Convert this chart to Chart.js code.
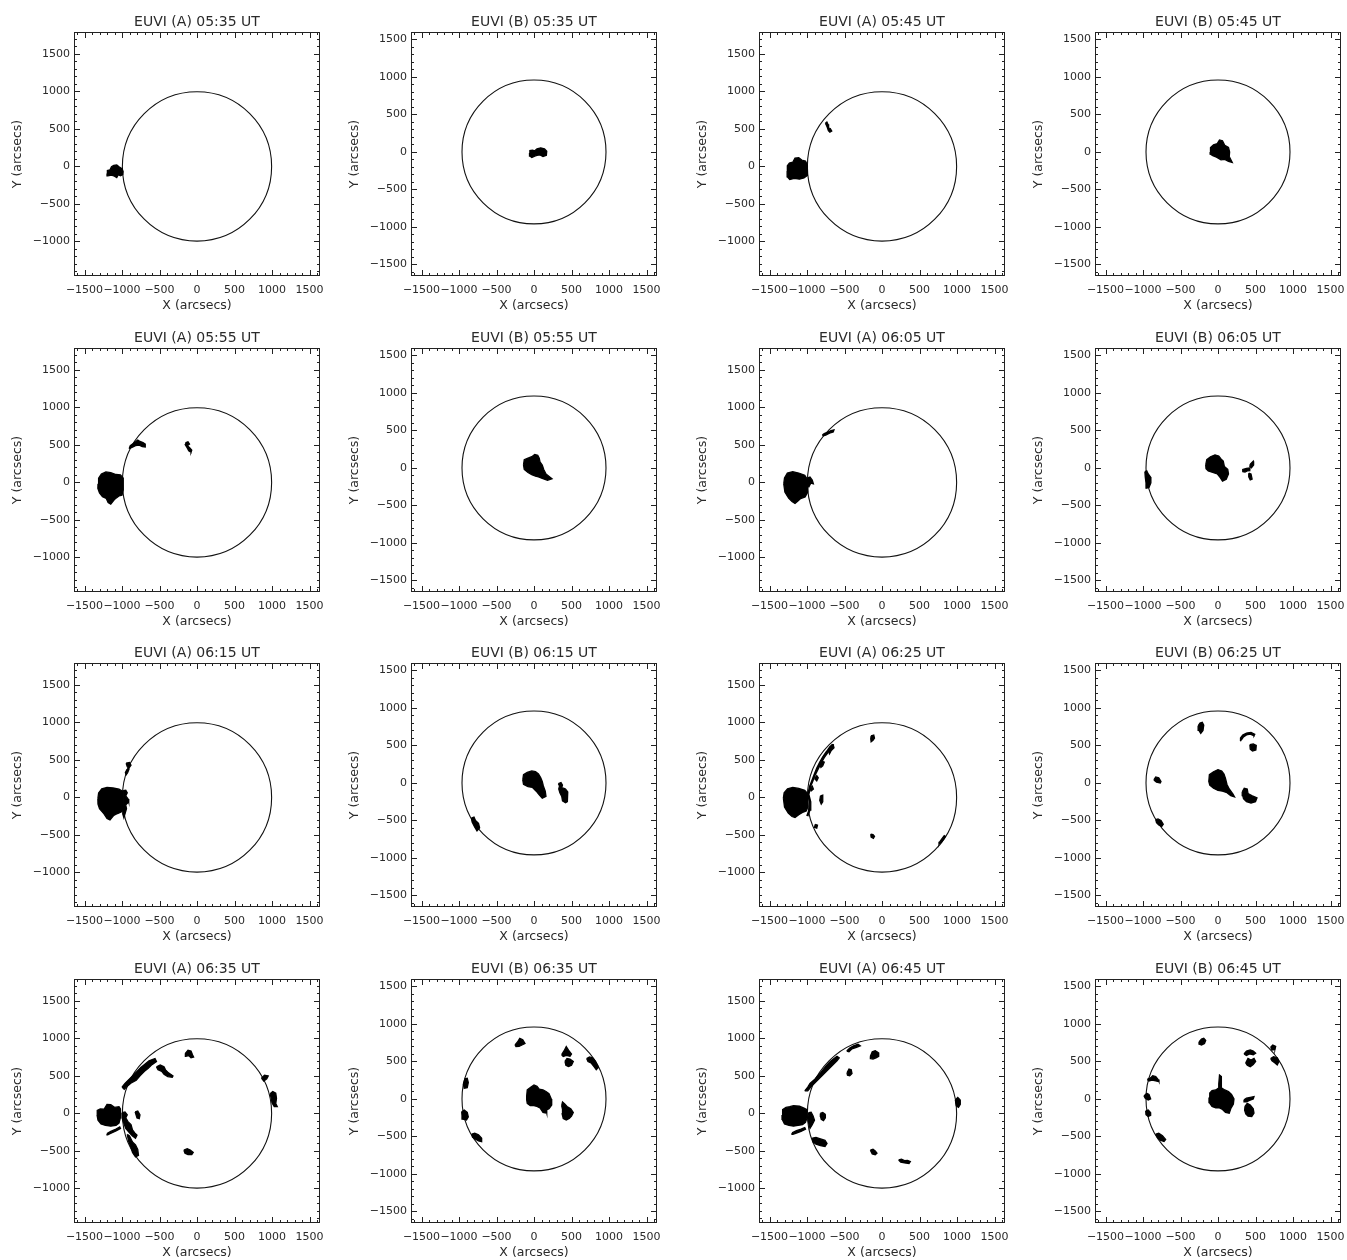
<!DOCTYPE html>
<html><head><meta charset="utf-8">
<script src="https://cdn.jsdelivr.net/npm/chart.js@4.4.1/dist/chart.umd.min.js"></script>
<style>
html,body{margin:0;padding:0;background:#fff;width:1347px;height:1260px;overflow:hidden;position:relative}
canvas{position:absolute}
</style></head><body>
<script>
// ---------------- DATA ----------------
const panelTitles = [
 'EUVI (A) 05:35 UT','EUVI (B) 05:35 UT','EUVI (A) 05:45 UT','EUVI (B) 05:45 UT',
 'EUVI (A) 05:55 UT','EUVI (B) 05:55 UT','EUVI (A) 06:05 UT','EUVI (B) 06:05 UT',
 'EUVI (A) 06:15 UT','EUVI (B) 06:15 UT','EUVI (A) 06:25 UT','EUVI (B) 06:25 UT',
 'EUVI (A) 06:35 UT','EUVI (B) 06:35 UT','EUVI (A) 06:45 UT','EUVI (B) 06:45 UT'];
const panelInstruments = ['A','B','A','B','A','B','A','B','A','B','A','B','A','B','A','B'];
const xTicks = [-1500,-1000,-500,0,500,1000,1500];
const yTicksA = [-1000,-500,0,500,1000,1500];
const yTicksB = [-1500,-1000,-500,0,500,1000,1500];
const xRange = [-1640,1640];
const yRangeA = [-1460,1790];
const yRangeB = [-1655,1600];
const limbRadiusA = 995;
const limbRadiusB = 960;
const xTitle = 'X (arcsecs)';
const yTitle = 'Y (arcsecs)';

// detected regions (arcsec polygons)
const regA0535 = [
 [[-1200,-95],[-1195,-55],[-1160,-45],[-1140,-5],[-1110,15],[-1070,20],[-1040,-5],[-1000,-30],[-985,-70],[-990,-110],[-1020,-125],[-1050,-110],[-1070,-150],[-1100,-130],[-1140,-115],[-1190,-125]]
];
const regB0535 = [
 [[-60,-15],[-55,20],[-20,25],[10,15],[40,40],[90,55],[140,40],[170,10],[165,-45],[120,-60],[80,-40],[40,-45],[10,-55],[-30,-75],[-55,-55]]
];
const regA0545 = [
 [[-1265,-60],[-1262,10],[-1235,45],[-1190,55],[-1160,110],[-1110,115],[-1070,85],[-1020,70],[-995,20],[-990,-60],[-1000,-120],[-1040,-155],[-1100,-170],[-1170,-160],[-1230,-175],[-1262,-140]],
 [[-755,575],[-735,590],[-720,560],[-712,510],[-690,505],[-670,470],[-695,455],[-715,475],[-730,520],[-740,545]]
];
const regB0545 = [
 [[-105,0],[-100,60],[-60,95],[-10,110],[20,160],[60,150],[90,90],[140,60],[155,0],[150,-60],[190,-140],[140,-125],[90,-100],[40,-105],[-20,-70],[-70,-50],[-100,-30]]
];
const regA0555 = [
 [[-1320,-20],[-1312,55],[-1275,110],[-1215,140],[-1150,130],[-1080,105],[-1020,100],[-985,60],[-983,-100],[-1000,-170],[-1040,-180],[-1080,-210],[-1110,-240],[-1150,-290],[-1185,-270],[-1210,-215],[-1260,-190],[-1300,-140],[-1322,-80]],
 [[-905,450],[-890,490],[-860,510],[-820,540],[-790,565],[-760,545],[-720,530],[-690,510],[-690,470],[-730,475],[-770,495],[-820,490],[-860,470]],
 [[-150,530],[-120,540],[-100,510],[-130,490],[-95,460],[-70,430],[-80,400],[-110,420],[-130,460],[-155,500]]
];
const regB0555 = [
 [[-140,40],[-130,110],[-80,130],[-30,150],[10,180],[50,170],[70,130],[80,80],[110,40],[130,-20],[160,-80],[240,-145],[180,-165],[110,-140],[60,-120],[20,-110],[-30,-90],[-80,-60],[-130,-20]]
];
const regA0605 = [
 [[-1310,-20],[-1300,60],[-1262,125],[-1190,142],[-1110,125],[-1030,95],[-992,35],[-990,-130],[-1025,-195],[-1085,-215],[-1125,-250],[-1160,-280],[-1200,-255],[-1245,-210],[-1295,-130]],
 [[-990,60],[-960,70],[-930,30],[-915,-20],[-950,-10],[-975,-60],[-990,-40]],
 [[-795,630],[-770,650],[-720,670],[-680,690],[-640,700],[-650,670],[-700,655],[-750,630],[-780,620]]
];
const regB0605 = [
 [[-164,40],[-150,110],[-100,150],[-40,175],[10,160],[40,120],[70,90],[85,20],[130,-20],[140,-80],[110,-150],[60,-175],[30,-130],[-10,-80],[-70,-60],[-130,-40],[-160,-10]],
 [[325,-50],[330,-20],[380,-5],[420,0],[425,-35],[390,-40],[360,-55]],
 [[410,-70],[440,-80],[455,-150],[430,-160],[410,-120]],
 [[430,50],[470,90],[475,40],[445,0],[425,15]],
 [[-975,-50],[-950,-40],[-930,-80],[-900,-120],[-895,-200],[-920,-260],[-950,-270],[-960,-200],[-970,-120]]
];
const regA0615 = [
 [[-1322,-20],[-1312,60],[-1270,115],[-1200,133],[-1120,125],[-1040,110],[-990,80],[-985,-120],[-1000,-190],[-1060,-215],[-1110,-240],[-1160,-300],[-1200,-280],[-1240,-220],[-1300,-150],[-1320,-90]],
 [[-945,455],[-900,465],[-880,430],[-905,395],[-935,370],[-955,330],[-945,300],[-925,330],[-905,380],[-930,410]],
 [[-985,90],[-950,95],[-930,60],[-950,20],[-920,-20],[-910,-60],[-950,-100],[-940,-150],[-960,-220],[-975,-270],[-990,-220],[-985,-100]]
];
const regB0615 = [
 [[-150,40],[-140,110],[-90,140],[-30,160],[20,150],[60,120],[90,70],[110,20],[125,-40],[150,-110],[160,-180],[110,-205],[70,-160],[30,-110],[-20,-60],[-80,-50],[-140,-20]],
 [[325,-10],[360,5],[380,-30],[370,-60],[420,-80],[450,-120],[440,-200],[450,-250],[420,-265],[380,-240],[370,-180],[345,-130],[330,-80],[340,-40]],
 [[-835,-470],[-800,-455],[-780,-500],[-740,-540],[-725,-600],[-760,-640],[-790,-590],[-825,-520]]
];
const regA0625 = [
 [[-1315,-10],[-1305,60],[-1260,115],[-1190,133],[-1110,120],[-1030,95],[-990,50],[-987,-120],[-1010,-180],[-1060,-200],[-1110,-230],[-1160,-267],[-1200,-255],[-1250,-210],[-1300,-130]],
 [[-987,-244],[-960,-170],[-950,-60],[-975,40],[-950,150],[-920,220],[-890,300],[-850,380],[-810,460],[-770,530],[-720,600],[-680,650],[-650,700],[-665,705],[-700,660],[-745,605],[-790,540],[-830,470],[-870,390],[-905,305],[-935,225],[-965,150],[-990,40],[-968,-60],[-975,-170],[-1000,-240]],
 [[-720,640],[-690,680],[-650,700],[-640,660],[-680,620],[-700,580]],
 [[-830,440],[-800,480],[-770,470],[-790,420],[-815,400]],
 [[-900,250],[-870,290],[-850,260],[-870,220]],
 [[-960,120],[-930,150],[-915,110],[-945,85]],
 [[-820,20],[-790,30],[-790,-60],[-810,-90],[-830,-40]],
 [[-890,-360],[-860,-370],[-870,-410],[-900,-400]],
 [[-145,820],[-110,830],[-100,790],[-120,760],[-145,740],[-150,780]],
 [[-150,-490],[-120,-495],[-100,-520],[-115,-545],[-145,-530]],
 [[760,-620],[790,-600],[820,-560],[845,-520],[830,-510],[800,-550],[770,-590]]
];
const regB0625 = [
 [[-123,20],[-115,110],[-60,150],[0,178],[50,160],[80,120],[100,60],[120,-20],[150,-80],[200,-150],[220,-187],[170,-170],[120,-130],[60,-110],[0,-100],[-60,-70],[-110,-30]],
 [[323,-120],[350,-70],[390,-80],[400,-140],[450,-170],[520,-200],[500,-250],[440,-267],[380,-250],[340,-210],[330,-170]],
 [[295,560],[300,600],[330,640],[380,665],[440,675],[490,650],[480,630],[430,650],[380,640],[340,615],[315,580]],
 [[425,510],[470,520],[510,500],[505,440],[460,425],[430,450]],
 [[-265,760],[-240,800],[-210,810],[-190,770],[-200,700],[-230,660],[-255,700]],
 [[-855,40],[-830,80],[-790,70],[-760,20],[-770,0],[-820,10]],
 [[-830,-490],[-800,-480],[-760,-500],[-730,-550],[-750,-580],[-790,-560],[-820,-530]]
];
const regA0635 = [
 [[-1333,-20],[-1330,40],[-1290,60],[-1240,55],[-1200,120],[-1150,115],[-1100,80],[-1040,90],[-1020,60],[-1022,-60],[-1040,-130],[-1080,-160],[-1150,-170],[-1220,-160],[-1280,-140],[-1320,-90]],
 [[-1200,-270],[-1150,-240],[-1080,-210],[-1030,-180],[-1020,-200],[-1080,-235],[-1160,-270],[-1190,-285]],
 [[-1000,10],[-960,20],[-930,-20],[-950,-60],[-920,-110],[-880,-150],[-860,-220],[-830,-260],[-800,-290],[-820,-330],[-860,-300],[-900,-260],[-950,-200],[-980,-120],[-1000,-60]],
 [[-930,-280],[-900,-300],[-860,-380],[-820,-420],[-790,-480],[-780,-560],[-820,-580],[-860,-520],[-880,-450],[-910,-380]],
 [[-825,20],[-790,30],[-760,-20],[-770,-70],[-800,-60]],
 [[-1000,350],[-960,400],[-900,460],[-850,510],[-800,560],[-750,610],[-700,650],[-640,700],[-560,730],[-540,690],[-600,650],[-650,600],[-700,560],[-760,500],[-810,440],[-870,410],[-930,360],[-970,320]],
 [[-540,620],[-490,645],[-440,620],[-420,580],[-380,540],[-320,500],[-330,480],[-390,490],[-440,520],[-470,560],[-520,580]],
 [[-155,800],[-120,840],[-80,830],[-60,780],[-45,750],[-80,740],[-110,770],[-150,760]],
 [[-175,-490],[-130,-470],[-90,-490],[-50,-520],[-70,-550],[-120,-550],[-160,-530]],
 [[860,470],[900,510],[950,500],[930,460],[890,430]],
 [[975,260],[1010,290],[1050,270],[1060,200],[1050,130],[1070,90],[1030,90],[1000,140],[990,200]]
];
const regB0635 = [
 [[-98,40],[-90,120],[-40,160],[0,187],[40,170],[70,130],[120,120],[160,100],[200,70],[230,0],[236,-80],[200,-130],[160,-150],[170,-190],[120,-180],[80,-120],[40,-100],[0,-90],[-50,-90],[-90,-60],[-98,-10]],
 [[369,-90],[380,-40],[410,-67],[440,-100],[490,-130],[524,-180],[500,-230],[470,-260],[430,-280],[390,-260],[375,-200],[380,-140]],
 [[369,590],[400,640],[430,698],[460,650],[500,600],[480,570],[430,580],[390,565]],
 [[413,500],[440,540],[480,530],[524,500],[500,450],[460,431],[425,450]],
 [[702,540],[740,560],[780,550],[820,500],[858,420],[830,390],[800,430],[760,480],[720,500]],
 [[-253,720],[-220,760],[-190,809],[-150,790],[-120,740],[-160,720],[-200,700],[-240,698]],
 [[-942,200],[-920,270],[-890,276],[-876,220],[-890,150],[-930,142]],
 [[-964,-170],[-930,-147],[-890,-180],[-876,-240],[-900,-280],[-950,-270],[-960,-220]],
 [[-831,-470],[-790,-458],[-740,-480],[-700,-520],[-698,-569],[-740,-560],[-790,-530],[-820,-510]]
];
const regA0645 = [
 [[-1333,-20],[-1325,50],[-1280,80],[-1230,90],[-1180,102],[-1100,95],[-1040,70],[-1000,50],[-1000,-60],[-1020,-120],[-1060,-150],[-1120,-160],[-1180,-170],[-1240,-160],[-1300,-140],[-1330,-80]],
 [[-1200,-260],[-1140,-230],[-1080,-210],[-1030,-190],[-1020,-210],[-1080,-240],[-1150,-265],[-1190,-280]],
 [[-1030,300],[-990,350],[-960,400],[-900,450],[-860,500],[-820,540],[-780,590],[-740,640],[-690,690],[-640,730],[-600,760],[-570,740],[-600,700],[-640,660],[-680,620],[-720,580],[-760,540],[-800,500],[-850,450],[-900,400],[-950,350],[-990,300]],
 [[-470,830],[-430,870],[-380,900],[-320,920],[-290,900],[-340,880],[-400,860],[-440,820]],
 [[-467,540],[-440,590],[-410,580],[-400,530],[-430,502],[-460,510]],
 [[-155,760],[-130,820],[-90,836],[-50,810],[-44,760],[-80,740],[-120,724],[-150,730]],
 [[-978,10],[-945,15],[-920,-30],[-900,-90],[-930,-150],[-960,-200],[-975,-140],[-990,-60]],
 [[-930,-330],[-880,-320],[-820,-340],[-760,-360],[-733,-400],[-760,-440],[-820,-430],[-880,-410],[-920,-380]],
 [[-822,0],[-790,13],[-760,-10],[-755,-60],[-780,-98],[-810,-80],[-820,-40]],
 [[-155,-490],[-120,-476],[-90,-500],[-67,-530],[-90,-551],[-130,-540]],
 [[222,-620],[260,-609],[300,-630],[340,-625],[378,-640],[360,-667],[300,-660],[250,-650]],
 [[978,180],[1010,213],[1040,180],[1044,120],[1020,80],[990,100]]
];
const regB0645 = [
 [[-120,20],[-110,80],[-80,110],[-30,120],[0,140],[10,200],[20,320],[45,300],[40,220],[50,150],[90,120],[140,100],[180,60],[213,0],[205,-70],[170,-130],[150,-191],[100,-180],[60,-140],[20,-120],[-30,-120],[-80,-100],[-115,-50]],
 [[347,-10],[380,10],[430,20],[480,31],[470,0],[420,-20],[380,-40],[350,-40]],
 [[360,-100],[390,-58],[430,-80],[470,-130],[480,-190],[450,-235],[400,-230],[370,-200],[355,-150]],
 [[347,600],[380,640],[430,653],[470,640],[502,610],[470,590],[420,600],[380,580]],
 [[369,480],[400,540],[440,520],[480,542],[502,500],[470,460],[430,431],[390,450]],
 [[702,690],[730,720],[769,700],[760,660],[720,653]],
 [[702,540],[740,564],[790,550],[813,500],[790,453],[760,480],[720,510]],
 [[-253,760],[-220,800],[-190,809],[-164,780],[-180,740],[-220,720],[-250,730]],
 [[-942,260],[-900,280],[-870,310],[-830,300],[-800,260],[-787,231],[-830,240],[-880,250],[-920,240]],
 [[-987,40],[-950,76],[-920,60],[-898,0],[-930,-13],[-970,10]],
 [[-964,-160],[-930,-147],[-900,-180],[-898,-220],[-930,-235],[-960,-210]],
 [[-831,-470],[-790,-458],[-740,-490],[-698,-540],[-720,-569],[-770,-550],[-810,-510]]
];
const panelRegions = [regA0535,regB0535,regA0545,regB0545,regA0555,regB0555,regA0605,regB0605,
  regA0615,regB0615,regA0625,regB0625,regA0635,regB0635,regA0645,regB0645];

// ---------------- LAYOUT ----------------
const boxLefts = [74, 411, 759, 1095];
const boxTops = [32, 348, 663, 979];
const Y_AXIS_W = 74, TITLE_H = 28, X_AXIS_H = 38, PAD_R = 16;
const BOX_W = 246, BOX_H = 244;
const FONT = '"DejaVu Sans", sans-serif';
const TXT = '#2a2a2a';

const fmt = v => (v < 0 ? '\u2212' + Math.abs(v) : String(v));

const framePlugin = {
  id: 'frame',
  beforeDatasetsDraw(chart, args, opts) {
    const {ctx, scales: {x, y}} = chart;
    const cx = x.getPixelForValue(0), cy = y.getPixelForValue(0);
    const rx = Math.abs(x.getPixelForValue(opts.radius) - cx);
    const ry = Math.abs(y.getPixelForValue(opts.radius) - cy);
    ctx.save();
    ctx.beginPath();
    ctx.ellipse(cx, cy, rx, ry, 0, 0, Math.PI * 2);
    ctx.lineWidth = 1.1; ctx.strokeStyle = '#111';
    ctx.stroke();
    ctx.restore();
  },
  afterDraw(chart, args, opts) {
    const {ctx, chartArea: a, scales: {x, y}} = chart;
    ctx.save();
    ctx.strokeStyle = '#222'; ctx.lineWidth = 1;
    ctx.strokeRect(a.left + 0.5, a.top + 0.5, a.width - 1, a.height - 1);
    ctx.beginPath();
    for (let v = Math.ceil(x.min / 100) * 100; v <= x.max; v += 100) {
      const L = (v % 500 === 0) ? 6 : 3;
      const px = Math.round(x.getPixelForValue(v)) + 0.5;
      ctx.moveTo(px, a.bottom); ctx.lineTo(px, a.bottom - L);
      ctx.moveTo(px, a.top); ctx.lineTo(px, a.top + L);
    }
    for (let v = Math.ceil(y.min / 100) * 100; v <= y.max; v += 100) {
      const L = (v % 500 === 0) ? 6 : 3;
      const py = Math.round(y.getPixelForValue(v)) + 0.5;
      ctx.moveTo(a.left, py); ctx.lineTo(a.left + L, py);
      ctx.moveTo(a.right, py); ctx.lineTo(a.right - L, py);
    }
    ctx.stroke();
    ctx.restore();
  }
};

panelTitles.forEach((title, i) => {
  const row = Math.floor(i / 4), col = i % 4;
  const isA = panelInstruments[i] === 'A';
  const yR = isA ? yRangeA : yRangeB;
  const yT = isA ? yTicksA : yTicksB;
  const W = Y_AXIS_W + BOX_W + PAD_R, H = TITLE_H + BOX_H + X_AXIS_H;
  const cv = document.createElement('canvas');
  cv.width = W; cv.height = H;
  cv.style.left = (boxLefts[col] - Y_AXIS_W) + 'px';
  cv.style.top = (boxTops[row] - TITLE_H) + 'px';
  cv.style.width = W + 'px'; cv.style.height = H + 'px';
  document.body.appendChild(cv);

  const datasets = panelRegions[i].map(poly => {
    const pts = poly.map(([px, py]) => ({x: px, y: py}));
    pts.push({x: poly[0][0], y: poly[0][1]});
    return {
      data: pts, showLine: true, fill: 'shape', tension: 0,
      backgroundColor: '#000', borderColor: '#000', borderWidth: 1.3,
      pointRadius: 0, pointHoverRadius: 0
    };
  });

  new Chart(cv, {
    type: 'scatter',
    data: {datasets},
    plugins: [framePlugin],
    options: {
      responsive: false, animation: false, devicePixelRatio: 1, events: [],
      layout: {padding: {left: 0, right: PAD_R, top: 0, bottom: 0}},
      plugins: {
        legend: {display: false}, tooltip: {enabled: false},
        title: {display: true, text: title, fullSize: false, color: TXT,
          font: {family: FONT, size: 14, weight: 'normal', lineHeight: '16px'},
          padding: {top: 10, bottom: 2}},
        frame: {radius: isA ? limbRadiusA : limbRadiusB}
      },
      scales: {
        x: {
          type: 'linear', min: xRange[0], max: xRange[1],
          afterBuildTicks: s => { s.ticks = xTicks.map(v => ({value: v})); },
          afterFit: s => { s.height = X_AXIS_H; },
          grid: {display: false, drawTicks: false}, border: {display: false},
          ticks: {autoSkip: false, maxRotation: 0, minRotation: 0, padding: 8, color: TXT,
            font: {family: FONT, size: 11}, callback: v => fmt(v)},
          title: {display: true, text: xTitle, color: TXT, font: {family: FONT, size: 12.5},
            padding: {top: 0, bottom: 1}}
        },
        y: {
          type: 'linear', min: yR[0], max: yR[1],
          afterBuildTicks: s => { s.ticks = yT.map(v => ({value: v})); },
          afterFit: s => { s.width = Y_AXIS_W; },
          grid: {display: false, drawTicks: false}, border: {display: false},
          ticks: {autoSkip: false, padding: 4, color: TXT,
            font: {family: FONT, size: 11}, callback: v => fmt(v)},
          title: {display: true, text: yTitle, color: TXT, font: {family: FONT, size: 12.5},
            padding: {top: 10, bottom: 0}}
        }
      }
    }
  });
});
</script>
</body></html>
